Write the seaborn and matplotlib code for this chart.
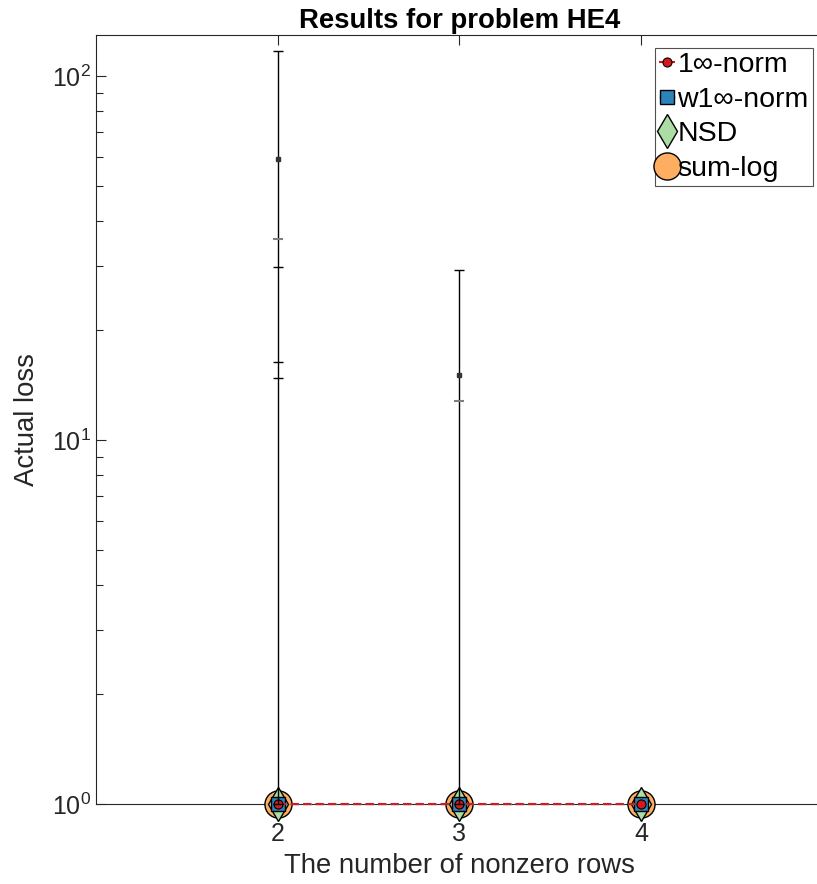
import numpy as np
import pandas as pd
import matplotlib
matplotlib.use("Agg")
import matplotlib.pyplot as plt
import seaborn as sns

# --- data ---
rows = [2, 3, 4]
loss_1inf = [1.0, 1.0, 1.0]
loss_w1inf = [1.0, 1.0, 1.0]
loss_nsd = [1.0, 1.0, 1.0]
loss_sumlog = [1.0, 1.0, 1.0]

# upper ends of the error bars (per x position)
err_rows = [2, 3]
err_black = [[117, 29.9, 16.4, 14.8], [29.3]]
err_gray = [[35.6], [12.8]]
err_dot = [[59], [15.1]]

df = pd.DataFrame({
    "rows": rows * 4,
    "loss": loss_1inf + loss_w1inf + loss_nsd + loss_sumlog,
    "method": ["1∞-norm"] * 3 + ["w1∞-norm"] * 3 + ["NSD"] * 3 + ["sum-log"] * 3,
})

sns.set_theme(style="ticks")
plt.rcParams["font.family"] = ["Liberation Sans", "DejaVu Sans"]
plt.rcParams["mathtext.fontset"] = "custom"
plt.rcParams["mathtext.rm"] = "Liberation Sans"
plt.rcParams["mathtext.it"] = "Liberation Sans"
plt.rcParams["lines.scale_dashes"] = False

txt = "#262626"
red, blue, green, orange = "#d7191c", "#2b83ba", "#abdda4", "#fdae61"
dash = (0, (6, 3))

fig = plt.figure(figsize=(8.17, 8.84), dpi=100)
ax = fig.add_axes([96 / 817, 1 - 804 / 884, (823 - 96) / 817, (804 - 35) / 884])

common = dict(ax=ax, markeredgecolor="black", clip_on=False)
sub = df[df.method == "sum-log"]
sns.lineplot(data=sub, x="rows", y="loss", color=orange, linestyle="none",
             marker="o", markersize=19.5, markeredgewidth=1, label="sum-log", zorder=3, **common)
sub = df[df.method == "NSD"]
sns.lineplot(data=sub, x="rows", y="loss", color=green, linestyle="none",
             marker="d", markersize=17.5, markeredgewidth=1, label="NSD", zorder=4, **common)
sub = df[df.method == "w1∞-norm"]
sns.lineplot(data=sub, x="rows", y="loss", color=blue, linestyle=dash, linewidth=1,
             marker="s", markersize=9.5, markeredgewidth=1, markerfacecolor=blue,
             label="w1∞-norm", zorder=5, **common)
sub = df[df.method == "1∞-norm"]
sns.lineplot(data=sub, x="rows", y="loss", color=red, linestyle=dash, linewidth=1.5,
             marker="o", markersize=6.5, markeredgewidth=0.8, markerfacecolor=red,
             label="1∞-norm", zorder=6, **common)

# error bars
for i, xr in enumerate(err_rows):
    top = max(err_black[i] + err_gray[i] + err_dot[i])
    ax.vlines(xr, 1.0, top, color="black", linewidth=1, zorder=7, clip_on=False)
    ax.plot([xr] * (len(err_black[i]) + 1), err_black[i] + [1.0], linestyle="none",
            marker="_", markersize=6.5, markeredgewidth=1, color="black", zorder=7,
            clip_on=False)
    ax.plot([xr] * len(err_gray[i]), err_gray[i], linestyle="none",
            marker="_", markersize=6.5, markeredgewidth=1.5, color="#7f7f7f", zorder=7)
    ax.plot([xr] * len(err_dot[i]), err_dot[i], linestyle="none",
            marker="s", markersize=2.5, color="#333333", zorder=7)

ax.set_yscale("log")
ax.set_ylim(1, 129.6)
ax.set_xlim(1, 5)
ax.set_xticks([2, 3, 4])

ax.set_title("Results for problem HE4", fontsize=19.8, fontweight="bold", color="black", pad=5)
ax.set_xlabel("The number of nonzero rows", fontsize=19.8, color=txt, labelpad=5)
ax.set_ylabel("Actual loss", fontsize=19.8, color=txt)
ax.yaxis.set_label_coords(-56 / 727, 0.5)

for side in ["left", "bottom", "top", "right"]:
    ax.spines[side].set_color(txt)
    ax.spines[side].set_linewidth(0.8)
    ax.spines[side].set_zorder(1)
ax.tick_params(which="both", direction="in", top=True, right=False, colors=txt,
               labelsize=18, width=0.8)
ax.tick_params(which="major", length=7)
ax.tick_params(which="minor", length=5)
ax.tick_params(axis="x", pad=13)
ax.grid(False)

h, l = ax.get_legend_handles_labels()
order = [l.index(n) for n in ["1∞-norm", "w1∞-norm", "NSD", "sum-log"]]
leg = ax.legend([h[k] for k in order], [l[k] for k in order], loc="upper right",
                bbox_to_anchor=(813 / 817, 1 - 48 / 884), bbox_transform=fig.transFigure,
                borderaxespad=0, fontsize=20.5, handlelength=0.55, handletextpad=0.1,
                labelspacing=0.3, borderpad=0.15, frameon=True, fancybox=False,
                edgecolor=txt)
leg.get_frame().set_linewidth(0.8)
for t in leg.get_texts():
    t.set_color("black")

fig.savefig("out.png", dpi=100)
